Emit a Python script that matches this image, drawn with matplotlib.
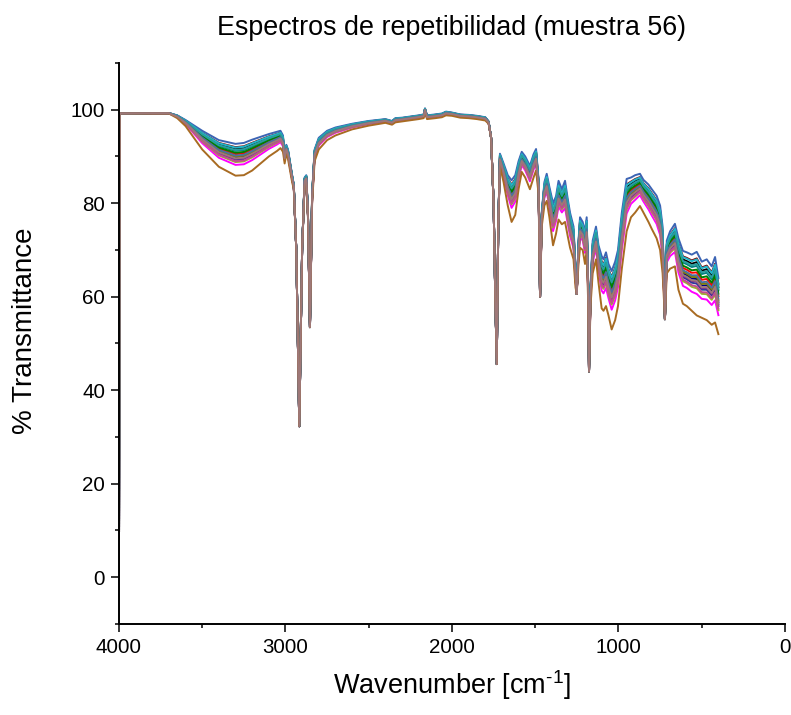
import numpy as np
import matplotlib
matplotlib.use("Agg")
import matplotlib.pyplot as plt

plt.rcParams["font.family"] = ["Liberation Sans", "DejaVu Sans"]
plt.rcParams["mathtext.fontset"] = "custom"
plt.rcParams["mathtext.rm"] = "Liberation Sans"

# anchor wavenumbers of the spectra (cm-1)
wavenumber = [4000, 3996, 3800, 3700, 3650, 3600, 3500, 3400, 3300, 3250, 3200, 3150,
              3100, 3050, 3030, 3015, 3005, 2995, 2985, 2960, 2950, 2935, 2917, 2900,
              2885, 2875, 2865, 2853, 2840, 2825, 2800, 2750, 2700, 2600, 2500, 2400,
              2360, 2340, 2300, 2200, 2170, 2162, 2150, 2100, 2060, 2036, 2000, 1950,
              1900, 1850, 1800, 1780, 1765, 1750, 1740, 1731, 1722, 1712, 1690, 1665,
              1642, 1620, 1600, 1581, 1560, 1532, 1510, 1495, 1480, 1471, 1461, 1445,
              1431, 1415, 1393, 1375, 1360, 1340, 1321, 1305, 1291, 1270, 1258, 1251,
              1240, 1231, 1215, 1201, 1191, 1183, 1177, 1168, 1155, 1135, 1120, 1101,
              1090, 1075, 1060, 1041, 1020, 1003, 980, 951, 925, 900, 871, 850,
              820, 800, 771, 750, 735, 721, 710, 690, 661, 640, 613, 590,
              560, 530, 500, 470, 440, 420, 400]

# highest spectrum (%T)
t_top = [0.0, 99.2, 99.3, 99.3, 98.8, 97.8, 95.5, 93.5, 92.7, 92.9, 93.6, 94.2,
         94.8, 95.3, 95.5, 94.5, 90.5, 92.5, 91.5, 86.0, 84.0, 70.0, 32.3, 70.0,
         85.5, 86.0, 78.0, 53.5, 82.0, 91.5, 94.0, 95.5, 96.2, 97.0, 97.6, 98.0,
         97.6, 98.2, 98.3, 98.8, 99.0, 100.3, 98.8, 99.0, 99.2, 99.6, 99.4, 99.0,
         98.9, 98.7, 98.4, 97.5, 94.0, 80.0, 60.0, 45.6, 75.0, 90.6, 88.5, 86.0,
         84.9, 86.0, 89.0, 91.0, 90.0, 88.0, 90.5, 91.6, 85.0, 60.0, 78.0, 84.5,
         86.3, 83.5, 80.0, 81.5, 84.8, 83.0, 84.8, 81.0, 78.0, 75.0, 66.0, 60.6,
         72.0, 77.0, 76.0, 74.0, 77.0, 65.0, 44.0, 62.0, 72.0, 75.0, 71.0, 68.7,
         68.0, 69.5, 67.0, 65.5, 67.5, 70.0, 78.0, 85.2, 85.5, 86.0, 86.3, 85.0,
         84.0, 83.0, 81.6, 79.5, 75.0, 55.2, 72.0, 74.0, 75.6, 72.5, 69.8, 69.5,
         69.0, 69.6, 67.5, 68.0, 66.5, 68.5, 64.0]

# lowest spectrum (%T), the brown outlier
t_low = [0.0, 99.2, 99.2, 99.2, 98.2, 96.5, 91.5, 87.8, 85.9, 86.0, 87.0, 88.5,
         90.0, 91.2, 91.8, 91.0, 88.5, 90.5, 89.5, 84.5, 83.0, 70.0, 32.3, 70.0,
         84.0, 84.5, 77.0, 53.5, 80.0, 89.0, 91.5, 93.5, 94.5, 95.8, 96.6, 97.2,
         96.8, 97.3, 97.5, 98.0, 98.2, 99.5, 98.0, 98.2, 98.4, 98.8, 98.7, 98.3,
         98.2, 98.0, 97.7, 97.0, 94.0, 80.0, 60.0, 45.6, 75.0, 88.0, 84.5, 79.5,
         76.0, 77.5, 83.0, 86.7, 85.5, 83.0, 85.5, 87.0, 82.0, 60.0, 75.0, 79.5,
         80.5, 77.0, 71.0, 73.5, 76.5, 75.5, 76.0, 73.0, 70.5, 68.0, 62.0, 60.6,
         67.0, 70.5, 70.0, 67.0, 70.0, 60.0, 44.0, 58.0, 65.0, 68.0, 63.0, 57.5,
         57.0, 58.0, 56.0, 53.0, 55.0, 58.0, 66.0, 74.0, 77.0, 78.0, 79.4, 78.0,
         76.0, 74.5, 72.5, 70.0, 65.0, 55.2, 65.0, 66.0, 66.5, 61.5, 58.5, 58.0,
         57.0, 56.0, 55.5, 55.0, 54.0, 54.5, 52.0]

# each replicate: colour and its %T at the 3300 cm-1 band
series_colors = ["#000000", "#FF0000", "#2B3A9A", "#FF00FF", "#9DB030", "#000080",
                 "#7B2C8C", "#800000", "#008080", "#008000", "#808000", "#3C64B4",
                 "#20B4C8", "#2A9D9D", "#C04C90", "#4A6FA0", "#A86B22", "#9E7878"]
series_t3300 = [91.6, 90.5, 89.3, 88.2, 88.8, 89.8, 89.5, 92.0, 91.2, 90.8, 90.0,
                92.7, 91.9, 91.4, 89.0, 90.2, 85.9, 89.6]

wn = np.array(wavenumber)
top = np.array(t_top)
low = np.array(t_low)

fig = plt.figure(figsize=(7.91, 7.15), dpi=100)
ax = fig.add_axes([0.1504, 0.1273, 0.842, 0.7846])

for c, v in zip(series_colors, series_t3300):
    w = (t_top[8] - v) / (t_top[8] - t_low[8])
    ax.plot(wn, top + w * (low - top), color=c, lw=1.4)

ax.set_xlim(4000, 0)
ax.set_ylim(-10, 110)
ax.set_xticks([4000, 3000, 2000, 1000, 0])
ax.set_xticks([3500, 2500, 1500, 500], minor=True)
ax.set_yticks([0, 20, 40, 60, 80, 100])
ax.set_yticks([-10, 10, 30, 50, 70, 90, 110], minor=True)
for s in ["top", "right"]:
    ax.spines[s].set_visible(False)
for s in ["left", "bottom"]:
    ax.spines[s].set_linewidth(1.4)
ax.tick_params(which="major", length=6, width=1.1, labelsize=14.8, pad=4)
ax.tick_params(which="minor", length=3, width=1.1)

ax.set_title("Espectros de repetibilidad (muestra 56)", fontsize=19.4, pad=20)
ax.set_xlabel(r"Wavenumber [cm$^{\text{-1}}$]", fontsize=19.5)
ax.set_ylabel("% Transmittance", fontsize=20)
ax.yaxis.set_label_coords(-0.121, 0.522)
ax.xaxis.set_label_coords(0.5, -0.078)
ax.xaxis.label.set_va("top")

fig.savefig("out.png", dpi=100)
